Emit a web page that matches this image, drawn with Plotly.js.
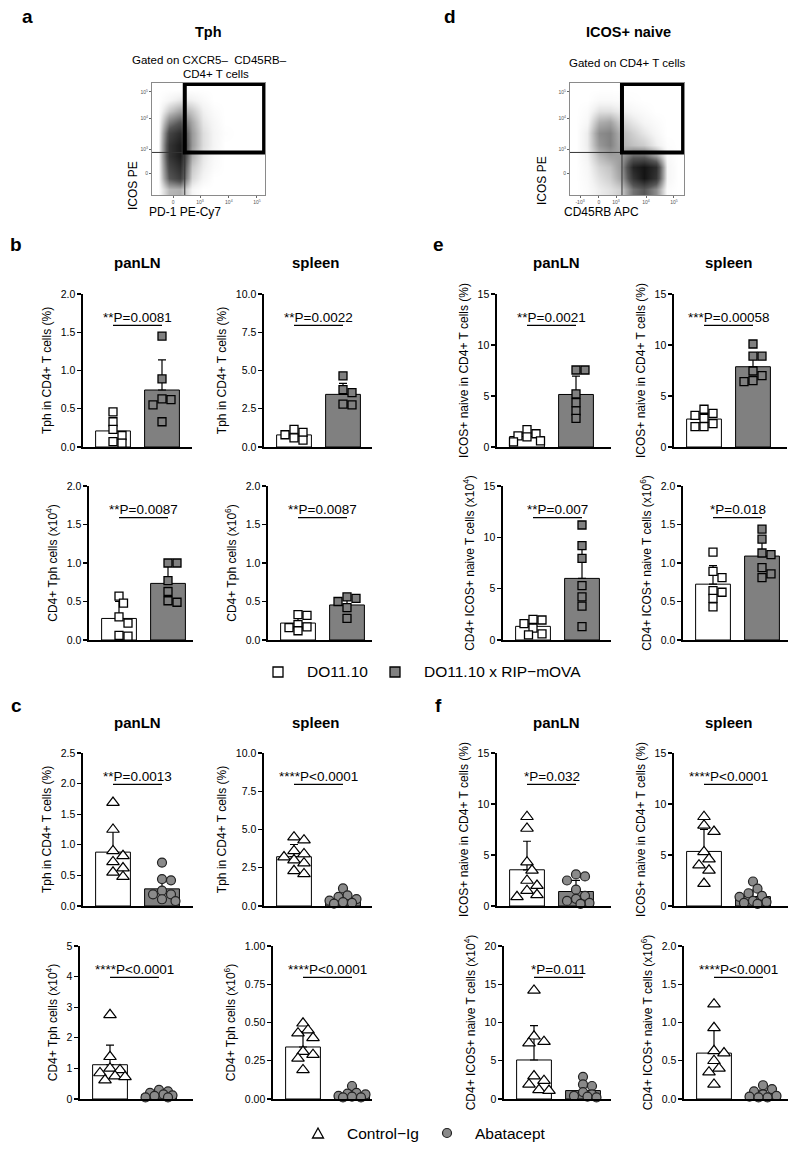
<!DOCTYPE html>
<html><head><meta charset="utf-8">
<script src="https://cdn.plot.ly/plotly-3.0.1.min.js"></script>
<style>body{margin:0;background:#fff}#chart{width:800px;height:1153px}</style>
</head><body><div id="chart"></div>
<script>
// ---------------- DATA ----------------
// Flow cytometry density, grid centres in % of axis
const flowGridX = [5,15,25,35,45,55,65,75,85,95];
const flowGridY = [5,15,25,35,45,55,65,75,85,95];
const tphDensity = [
 [0,0.25,0.28,0.05,0.00,0.00,0,0,0,0],
 [0,0.60,0.75,0.15,0.05,0.00,0,0,0,0],
 [0,0.70,0.85,0.20,0.08,0.02,0,0,0,0],
 [0,0.80,0.95,0.28,0.10,0.03,0,0,0,0],
 [0,0.80,0.95,0.35,0.13,0.05,0,0,0,0],
 [0,0.70,0.85,0.35,0.13,0.05,0.01,0,0,0],
 [0,0.45,0.60,0.30,0.10,0.04,0,0,0,0],
 [0,0.20,0.32,0.20,0.07,0.02,0,0,0,0],
 [0,0.05,0.10,0.07,0.03,0.00,0,0,0,0],
 [0,0,0,0,0,0,0,0,0,0]];
const icosDensity = [
 [0,0.02,0.08,0.12,0.18,0.50,0.60,0.40,0.02,0],
 [0,0.03,0.12,0.18,0.32,0.80,1.00,0.80,0.05,0],
 [0,0.04,0.16,0.22,0.36,0.90,1.00,0.85,0.05,0],
 [0,0.06,0.24,0.32,0.34,0.55,0.55,0.35,0.03,0],
 [0,0.08,0.36,0.44,0.28,0.22,0.18,0.08,0.01,0],
 [0,0.08,0.40,0.44,0.25,0.17,0.10,0.04,0,0],
 [0,0.04,0.28,0.32,0.17,0.10,0.05,0.02,0,0],
 [0,0.02,0.12,0.12,0.08,0.04,0.02,0,0,0],
 [0,0,0.03,0.03,0.02,0.01,0,0,0,0],
 [0,0,0,0,0,0,0,0,0,0]];

// Groups
const groupsBE = ['DO11.10', 'DO11.10 x RIP\u2212mOVA'];
const groupsCF = ['Control\u2212Ig', 'Abatacept'];

// b: Tph, DO11.10 vs DO11.10 x RIP-mOVA
const bTphPctLN_DO  = [0.46,0.33,0.23,0.15,0.07,0.05];
const bTphPctLN_RIP = [1.45,0.89,0.63,0.62,0.55,0.33];
const bTphPctLN_bar = [0.21,0.745], bTphPctLN_sd = [0.165,0.395];
const bTphPctSp_DO  = [1.15,0.95,0.8,0.6,0.45];
const bTphPctSp_RIP = [4.65,3.75,3.55,2.8,2.75];
const bTphPctSp_bar = [0.79,3.44], bTphPctSp_sd = [0.25,0.72];
const bTphNumLN_DO  = [0.57,0.48,0.30,0.22,0.06,0.05];
const bTphNumLN_RIP = [1.0,1.0,0.77,0.63,0.51,0.49];
const bTphNumLN_bar = [0.28,0.735], bTphNumLN_sd = [0.22,0.265];
const bTphNumSp_DO  = [0.33,0.32,0.2,0.17,0.12,0.16];
const bTphNumSp_RIP = [0.56,0.54,0.5,0.42,0.28];
const bTphNumSp_bar = [0.22,0.455], bTphNumSp_sd = [0.09,0.1];

// e: ICOS+ naive, DO11.10 vs DO11.10 x RIP-mOVA
const eIcosPctLN_DO  = [1.7,1.3,1.1,1.0,0.6,0.5];
const eIcosPctLN_RIP = [7.55,7.55,5.2,4.35,3.55,2.8];
const eIcosPctLN_bar = [1.03,5.15], eIcosPctLN_sd = [0.45,1.8];
const eIcosPctSp_DO  = [3.7,3.3,3.1,2.8,2.3,2.0,2.0];
const eIcosPctSp_RIP = [10.1,8.9,8.9,7.45,7.0,6.5,6.4];
const eIcosPctSp_bar = [2.74,7.87], eIcosPctSp_sd = [0.6,1.15];
const eIcosNumLN_DO  = [2.0,1.95,1.6,1.15,0.6,0.5];
const eIcosNumLN_RIP = [11.2,9.2,7.95,5.3,4.2,3.3,1.3];
const eIcosNumLN_bar = [1.33,6.0], eIcosNumLN_sd = [0.65,3.55];
const eIcosNumSp_DO  = [1.14,0.89,0.81,0.64,0.62,0.54,0.43];
const eIcosNumSp_RIP = [1.44,1.31,1.13,1.11,0.94,0.86,0.81];
const eIcosNumSp_bar = [0.725,1.09], eIcosNumSp_sd = [0.24,0.23];

// c: Tph, Control-Ig vs Abatacept
const cTphPctLN_Ctl = [1.69,1.25,0.9,0.82,0.72,0.62,0.55,0.48];
const cTphPctLN_Aba = [0.71,0.44,0.42,0.25,0.19,0.19,0.11,0.08];
const cTphPctLN_bar = [0.88,0.28], cTphPctLN_sd = [0.37,0.2];
const cTphPctSp_Ctl = [4.5,4.3,3.6,3.4,3.2,3.0,2.8,2.3,2.1];
const cTphPctSp_Aba = [1.15,0.7,0.6,0.45,0.35,0.25,0.2,0.15];
const cTphPctSp_bar = [3.22,0.46], cTphPctSp_sd = [0.8,0.3];
const cTphNumLN_Ctl = [2.75,1.38,1.0,0.95,0.85,0.75,0.72,0.62];
const cTphNumLN_Aba = [0.3,0.25,0.2,0.15,0.12,0.1,0.05,0.05];
const cTphNumLN_bar = [1.12,0.15], cTphNumLN_sd = [0.64,0.08];
const cTphNumSp_Ctl = [0.495,0.45,0.43,0.40,0.31,0.29,0.265,0.19];
const cTphNumSp_Aba = [0.085,0.04,0.035,0.03,0.02,0.015,0.01,0.01];
const cTphNumSp_bar = [0.34,0.025], cTphNumSp_sd = [0.1,0.02];

// f: ICOS+ naive, Control-Ig vs Abatacept
const fIcosPctLN_Ctl = [8.75,7.6,4.3,3.5,2.5,2.0,1.5,1.1,0.9];
const fIcosPctLN_Aba = [3.1,2.9,2.5,1.6,1.0,0.7,0.5,0.3,0.2];
const fIcosPctLN_bar = [3.55,1.42], fIcosPctLN_sd = [2.8,1.1];
const fIcosPctSp_Ctl = [8.75,7.9,7.3,5.3,4.6,4.0,3.5,2.2];
const fIcosPctSp_Aba = [2.4,1.7,1.25,1.0,0.9,0.5,0.4,0.3,0.2];
const fIcosPctSp_bar = [5.35,0.92], fIcosPctSp_sd = [2.15,0.65];
const fIcosNumLN_Ctl = [14.2,8.2,7.5,7.3,3.0,2.4,1.9,1.2,1.1];
const fIcosNumLN_Aba = [2.9,1.9,1.7,0.9,0.6,0.4,0.3,0.2];
const fIcosNumLN_bar = [5.1,1.1], fIcosNumLN_sd = [4.5,0.9];
const fIcosNumSp_Ctl = [1.24,0.93,0.63,0.6,0.5,0.4,0.35,0.19];
const fIcosNumSp_Aba = [0.18,0.13,0.1,0.06,0.04,0.03,0.02,0.02];
const fIcosNumSp_bar = [0.6,0.065], fIcosNumSp_sd = [0.31,0.05];

// P-value labels
const pLabels = {
 b1:'**P=0.0081', b2:'**P=0.0022', b3:'**P=0.0087', b4:'**P=0.0087',
 e1:'**P=0.0021', e2:'***P=0.00058', e3:'**P=0.007', e4:'*P=0.018',
 c1:'**P=0.0013', c2:'****P<0.0001', c3:'****P<0.0001', c4:'****P<0.0001',
 f1:'*P=0.032', f2:'****P<0.0001', f3:'*P=0.011', f4:'****P<0.0001'};

const T_TPH_PCT = 'Tph in CD4+ T cells (%)';
const T_TPH_N4 = 'CD4+ Tph cells (x10<sup>4</sup>)';
const T_TPH_N6 = 'CD4+ Tph cells (x10<sup>6</sup>)';
const T_ICOS_PCT = 'ICOS+ naive in CD4+ T cells (%)';
const T_ICOS_N4 = 'CD4+ ICOS+ naive T cells (x10<sup>4</sup>)';
const T_ICOS_N6 = 'CD4+ ICOS+ naive T cells (x10<sup>6</sup>)';

// ---------------- LAYOUT HELPERS ----------------
const W = 800, H = 1153;
const FONT = 'Liberation Sans, Arial, sans-serif';
const px = x => x / W, py = y => 1 - y / H;
const GREY = '#808080';

// box: [axisLeft, axisRight, topPx, zeroPx]
const panels = [
 {k:'b1', pts:[bTphPctLN_DO,bTphPctLN_RIP], bar:bTphPctLN_bar, sd:bTphPctLN_sd, t:T_TPH_PCT, ymax:2, dt:0.5, f:'.1f', box:[83,192,294,447], st:'sq'},
 {k:'b2', pts:[bTphPctSp_DO,bTphPctSp_RIP], bar:bTphPctSp_bar, sd:bTphPctSp_sd, t:T_TPH_PCT, ymax:10, dt:2.5, f:'.1f', box:[264,372,294,447], st:'sq'},
 {k:'b3', pts:[bTphNumLN_DO,bTphNumLN_RIP], bar:bTphNumLN_bar, sd:bTphNumLN_sd, t:T_TPH_N4, ymax:2, dt:0.5, f:'.1f', box:[89,193,486,640], st:'sq'},
 {k:'b4', pts:[bTphNumSp_DO,bTphNumSp_RIP], bar:bTphNumSp_bar, sd:bTphNumSp_sd, t:T_TPH_N6, ymax:2, dt:0.5, f:'.1f', box:[268,372,486,640], st:'sq'},
 {k:'e1', pts:[eIcosPctLN_DO,eIcosPctLN_RIP], bar:eIcosPctLN_bar, sd:eIcosPctLN_sd, t:T_ICOS_PCT, ymax:15, dt:5, f:'d', box:[497,611,294,447], st:'sq'},
 {k:'e2', pts:[eIcosPctSp_DO,eIcosPctSp_RIP], bar:eIcosPctSp_bar, sd:eIcosPctSp_sd, t:T_ICOS_PCT, ymax:15, dt:5, f:'d', box:[674,787,294,447], st:'sq'},
 {k:'e3', pts:[eIcosNumLN_DO,eIcosNumLN_RIP], bar:eIcosNumLN_bar, sd:eIcosNumLN_sd, t:T_ICOS_N4, ymax:15, dt:5, f:'d', box:[503,611,486,640], st:'sq'},
 {k:'e4', pts:[eIcosNumSp_DO,eIcosNumSp_RIP], bar:eIcosNumSp_bar, sd:eIcosNumSp_sd, t:T_ICOS_N6, ymax:2, dt:0.5, f:'.1f', box:[683,788,486,640], st:'sq'},
 {k:'c1', pts:[cTphPctLN_Ctl,cTphPctLN_Aba], bar:cTphPctLN_bar, sd:cTphPctLN_sd, t:T_TPH_PCT, ymax:2.5, dt:0.5, f:'.1f', box:[83,193,753,906], st:'tc'},
 {k:'c2', pts:[cTphPctSp_Ctl,cTphPctSp_Aba], bar:cTphPctSp_bar, sd:cTphPctSp_sd, t:T_TPH_PCT, ymax:10, dt:2.5, f:'.1f', box:[264,372,753,906], st:'tc'},
 {k:'c3', pts:[cTphNumLN_Ctl,cTphNumLN_Aba], bar:cTphNumLN_bar, sd:cTphNumLN_sd, t:T_TPH_N4, ymax:5, dt:1, f:'d', box:[80,193,946,1099], st:'tc'},
 {k:'c4', pts:[cTphNumSp_Ctl,cTphNumSp_Aba], bar:cTphNumSp_bar, sd:cTphNumSp_sd, t:T_TPH_N6, ymax:1, dt:0.25, f:'.2f', box:[273,372,946,1099], st:'tc'},
 {k:'f1', pts:[fIcosPctLN_Ctl,fIcosPctLN_Aba], bar:fIcosPctLN_bar, sd:fIcosPctLN_sd, t:T_ICOS_PCT, ymax:15, dt:5, f:'d', box:[497,611,753,906], st:'tc'},
 {k:'f2', pts:[fIcosPctSp_Ctl,fIcosPctSp_Aba], bar:fIcosPctSp_bar, sd:fIcosPctSp_sd, t:T_ICOS_PCT, ymax:15, dt:5, f:'d', box:[674,788,753,906], st:'tc'},
 {k:'f3', pts:[fIcosNumLN_Ctl,fIcosNumLN_Aba], bar:fIcosNumLN_bar, sd:fIcosNumLN_sd, t:T_ICOS_N4, ymax:20, dt:5, f:'d', box:[504,611,946,1099], st:'tc'},
 {k:'f4', pts:[fIcosNumSp_Ctl,fIcosNumSp_Aba], bar:fIcosNumSp_bar, sd:fIcosNumSp_sd, t:T_ICOS_N6, ymax:2, dt:0.5, f:'.1f', box:[684,788,946,1099], st:'tc'}
];

// simple beeswarm: horizontal pixel offsets so markers do not pile up
function swarm(vals, pxPerY, diam){
  const idx = vals.map((v,i)=>i).sort((a,b)=>vals[b]-vals[a]);
  const placed = [], off = new Array(vals.length).fill(0);
  const steps = [0,1,-1,2,-2,3,-3];
  for (const i of idx){
    let best = 0, bestD = -1;
    for (const k of steps){
      const dx = k*diam*0.5;
      let md = Infinity;
      for (const p of placed) md = Math.min(md, Math.hypot(dx-p.dx, (vals[i]-p.v)*pxPerY));
      if (md >= diam*0.85){ best = dx; bestD = md; break; }
      if (md > bestD){ bestD = md; best = dx; }
    }
    placed.push({dx:best, v:vals[i]}); off[i] = best;
  }
  return off;
}

const traces = [];
const layout = {
  width: W, height: H, margin:{l:0,r:0,t:0,b:0},
  paper_bgcolor:'#fff', plot_bgcolor:'rgba(0,0,0,0)',
  showlegend:false, font:{family:FONT, color:'#000'},
  annotations:[], shapes:[]
};

// ---------------- FLOW PLOTS ----------------
const flowGreys = [[0,'#ffffff'],[0.06,'#f3f3f3'],[0.3,'#a8a8a8'],[0.6,'#565656'],[1,'#141414']];
const flow = [
  {ax:'', z:tphDensity, box:[152,265,83,195], vx:29, hy:38,
   xt:[18.6,42.5,68,92.9], xl:['0','10<sup>3</sup>','10<sup>4</sup>','10<sup>5</sup>']},
  {ax:'2', z:icosDensity, box:[570,684,83,195], vx:45.6, hy:38,
   xt:[8.8,25.4,40.4,66.7,91.2], xl:['-10<sup>3</sup>','0','10<sup>3</sup>','10<sup>4</sup>','10<sup>5</sup>']}
];
flow.forEach(fp => {
  traces.push({type:'heatmap', x:flowGridX, y:flowGridY, z:fp.z, zmin:0, zmax:1,
    colorscale:flowGreys, showscale:false, zsmooth:'best', hoverinfo:'skip',
    xaxis:'x'+fp.ax, yaxis:'y'+fp.ax});
  const [l,r,t,b] = fp.box;
  const axBase = {range:[0,100], showline:true, mirror:true, linecolor:'#8a8a8a', linewidth:1,
    ticks:'outside', ticklen:2, tickcolor:'#666', tickfont:{size:5, color:'#555'},
    showgrid:false, zeroline:false, fixedrange:true};
  layout['xaxis'+fp.ax] = Object.assign({}, axBase, {domain:[px(l),px(r)], anchor:'y'+fp.ax,
    tickmode:'array', tickvals:fp.xt, ticktext:fp.xl});
  layout['yaxis'+fp.ax] = Object.assign({}, axBase, {domain:[py(b),py(t)], anchor:'x'+fp.ax,
    tickmode:'array', tickvals:[19.6,41,68.75,92], ticktext:['0','10<sup>3</sup>','10<sup>4</sup>','10<sup>5</sup>']});
  const xr = 'x'+fp.ax, yr = 'y'+fp.ax;
  layout.shapes.push({type:'line', xref:xr, yref:yr, x0:fp.vx, x1:fp.vx, y0:0, y1:100, line:{color:'#333', width:1}, layer:'above'});
  layout.shapes.push({type:'line', xref:xr, yref:yr, x0:0, x1:100, y0:fp.hy, y1:fp.hy, line:{color:'#333', width:1}, layer:'above'});
  layout.shapes.push({type:'rect', xref:xr, yref:yr, x0:fp.vx, x1:99.2, y0:fp.hy, y1:99.2, line:{color:'#000', width:4}, layer:'above'});
});

// ---------------- BAR PANELS ----------------
const PPU = 49; // px between the two bar centres
panels.forEach((p, i) => {
  const n = i + 3;
  const [l, r, t, b] = p.box;
  const xr = [-30/PPU, (r - l - 30)/PPU];
  const pxPerY = (b - t) / p.ymax;
  const xa = 'x'+n, ya = 'y'+n;
  layout['xaxis'+n] = {domain:[px(l),px(r)], range:xr, anchor:ya, showline:true, linecolor:'#000', linewidth:1.6,
    ticks:'', showticklabels:false, showgrid:false, zeroline:false, fixedrange:true};
  layout['yaxis'+n] = {domain:[py(b),py(t)], range:[0,p.ymax], anchor:xa, showline:true, linecolor:'#000', linewidth:1.6,
    ticks:'outside', ticklen:4, tickwidth:1.2, tickcolor:'#000', tick0:0, dtick:p.dt, tickformat:p.f,
    tickfont:{size:10.5, family:FONT}, showgrid:false, zeroline:false, fixedrange:true,
    title:{text:p.t, font:{size:12, family:FONT}, standoff:6}};
  traces.push({type:'bar', x:[0,1], y:p.bar, xaxis:xa, yaxis:ya, width:0.71, cliponaxis:false,
    marker:{color:['#ffffff',GREY], line:{color:'#000', width:1}},
    error_y:{type:'data', symmetric:false, array:p.sd, arrayminus:[0,0], color:'#000', thickness:1.2, width:4},
    hoverinfo:'skip'});
  const groupNames = p.st === 'sq' ? groupsBE : groupsCF;
  p.pts.forEach((vals, g) => {
    let marker, diam;
    if (p.st === 'sq') {
      diam = 9;
      marker = {symbol:'square', size:8, color: g===0 ? '#ffffff' : GREY, line:{color:'#000', width:1.3}};
    } else if (g === 0) {
      diam = 10;
      marker = {symbol:'triangle-up', size:11, color:'#ffffff', line:{color:'#000', width:1.2}};
    } else {
      diam = 9;
      marker = {symbol:'circle', size:9, color:'#8a8a8a', line:{color:'#222', width:1.2}};
    }
    const off = swarm(vals, pxPerY, diam);
    traces.push({type:'scatter', mode:'markers', name:groupNames[g], x:off.map(d => g + d/PPU), y:vals,
      xaxis:xa, yaxis:ya, cliponaxis:false, marker:marker, hoverinfo:'skip'});
  });
  // significance text and line
  layout.annotations.push({xref:xa, yref:ya+' domain', x:0.5, y:0.845, text:pLabels[p.k], showarrow:false,
    font:{size:13.5, family:FONT}, xanchor:'center', yanchor:'middle'});
  layout.shapes.push({type:'line', xref:xa, yref:ya+' domain', x0:0, x1:1, y0:0.795, y1:0.795, line:{color:'#000', width:1.2}});
});

// ---------------- TEXT ----------------
function ann(x, y, text, size, bold, anchor, angle){
  layout.annotations.push({xref:'paper', yref:'paper', x:px(x), y:py(y), text: bold ? '<b>'+text+'</b>' : text,
    showarrow:false, font:{size:size, family:FONT, color:'#000'}, xanchor:anchor||'center', yanchor:'middle', textangle:angle||0});
}
// panel letters
ann(27,17,'a',19,true); ann(450,17,'d',19,true);
ann(16,245,'b',19,true); ann(439,245,'e',19,true);
ann(16,705,'c',19,true); ann(439,705,'f',19,true);
// flow titles
ann(208,32,'Tph',14.5,true); ann(628,32,'ICOS+ naive',14.5,true);
ann(209,60,'Gated on CXCR5\u2013  CD45RB\u2013',11.5); ann(216,73.5,'CD4+ T cells',11.5);
ann(627,63,'Gated on CD4+ T cells',11.5);
ann(133,186,'ICOS PE',12,false,'center',-90); ann(185,212,'PD-1 PE-Cy7',12);
ann(542,181,'ICOS PE',12,false,'center',-90); ann(601,212,'CD45RB APC',12);
// column titles
[[137,262],[316,262],[556,262],[729,262],[137,722],[316,722],[556,722],[729,722]].forEach((c,i) => {
  ann(c[0], c[1], i%2===0 ? 'panLN' : 'spleen', 15, true);
});
// legends
ann(305,672,groupsBE[0],15.5,false,'left'); ann(422,672,groupsBE[1],15.5,false,'left');
ann(345,1133,groupsCF[0],15.5,false,'left'); ann(473,1133,groupsCF[1],15.5,false,'left');
const S = (x0,y0,x1,y1) => ({x0:px(x0), x1:px(x1), y0:py(y1), y1:py(y0)});
layout.shapes.push(Object.assign({type:'rect', xref:'paper', yref:'paper', fillcolor:'#fff', line:{color:'#000', width:1.3}}, S(273,667,283,677)));
layout.shapes.push(Object.assign({type:'rect', xref:'paper', yref:'paper', fillcolor:GREY, line:{color:'#000', width:1.3}}, S(390,667,400,677)));
layout.shapes.push({type:'path', xref:'paper', yref:'paper',
  path:`M ${px(312.5)} ${py(1138)} L ${px(323.5)} ${py(1138)} L ${px(318)} ${py(1128)} Z`,
  fillcolor:'#fff', line:{color:'#000', width:1.3}});
layout.shapes.push(Object.assign({type:'circle', xref:'paper', yref:'paper', fillcolor:'#8a8a8a', line:{color:'#222', width:1.2}}, S(442.5,1128.5,451.5,1137.5)));

Plotly.newPlot('chart', traces, layout, {staticPlot:true, displayModeBar:false});
</script></body></html>
